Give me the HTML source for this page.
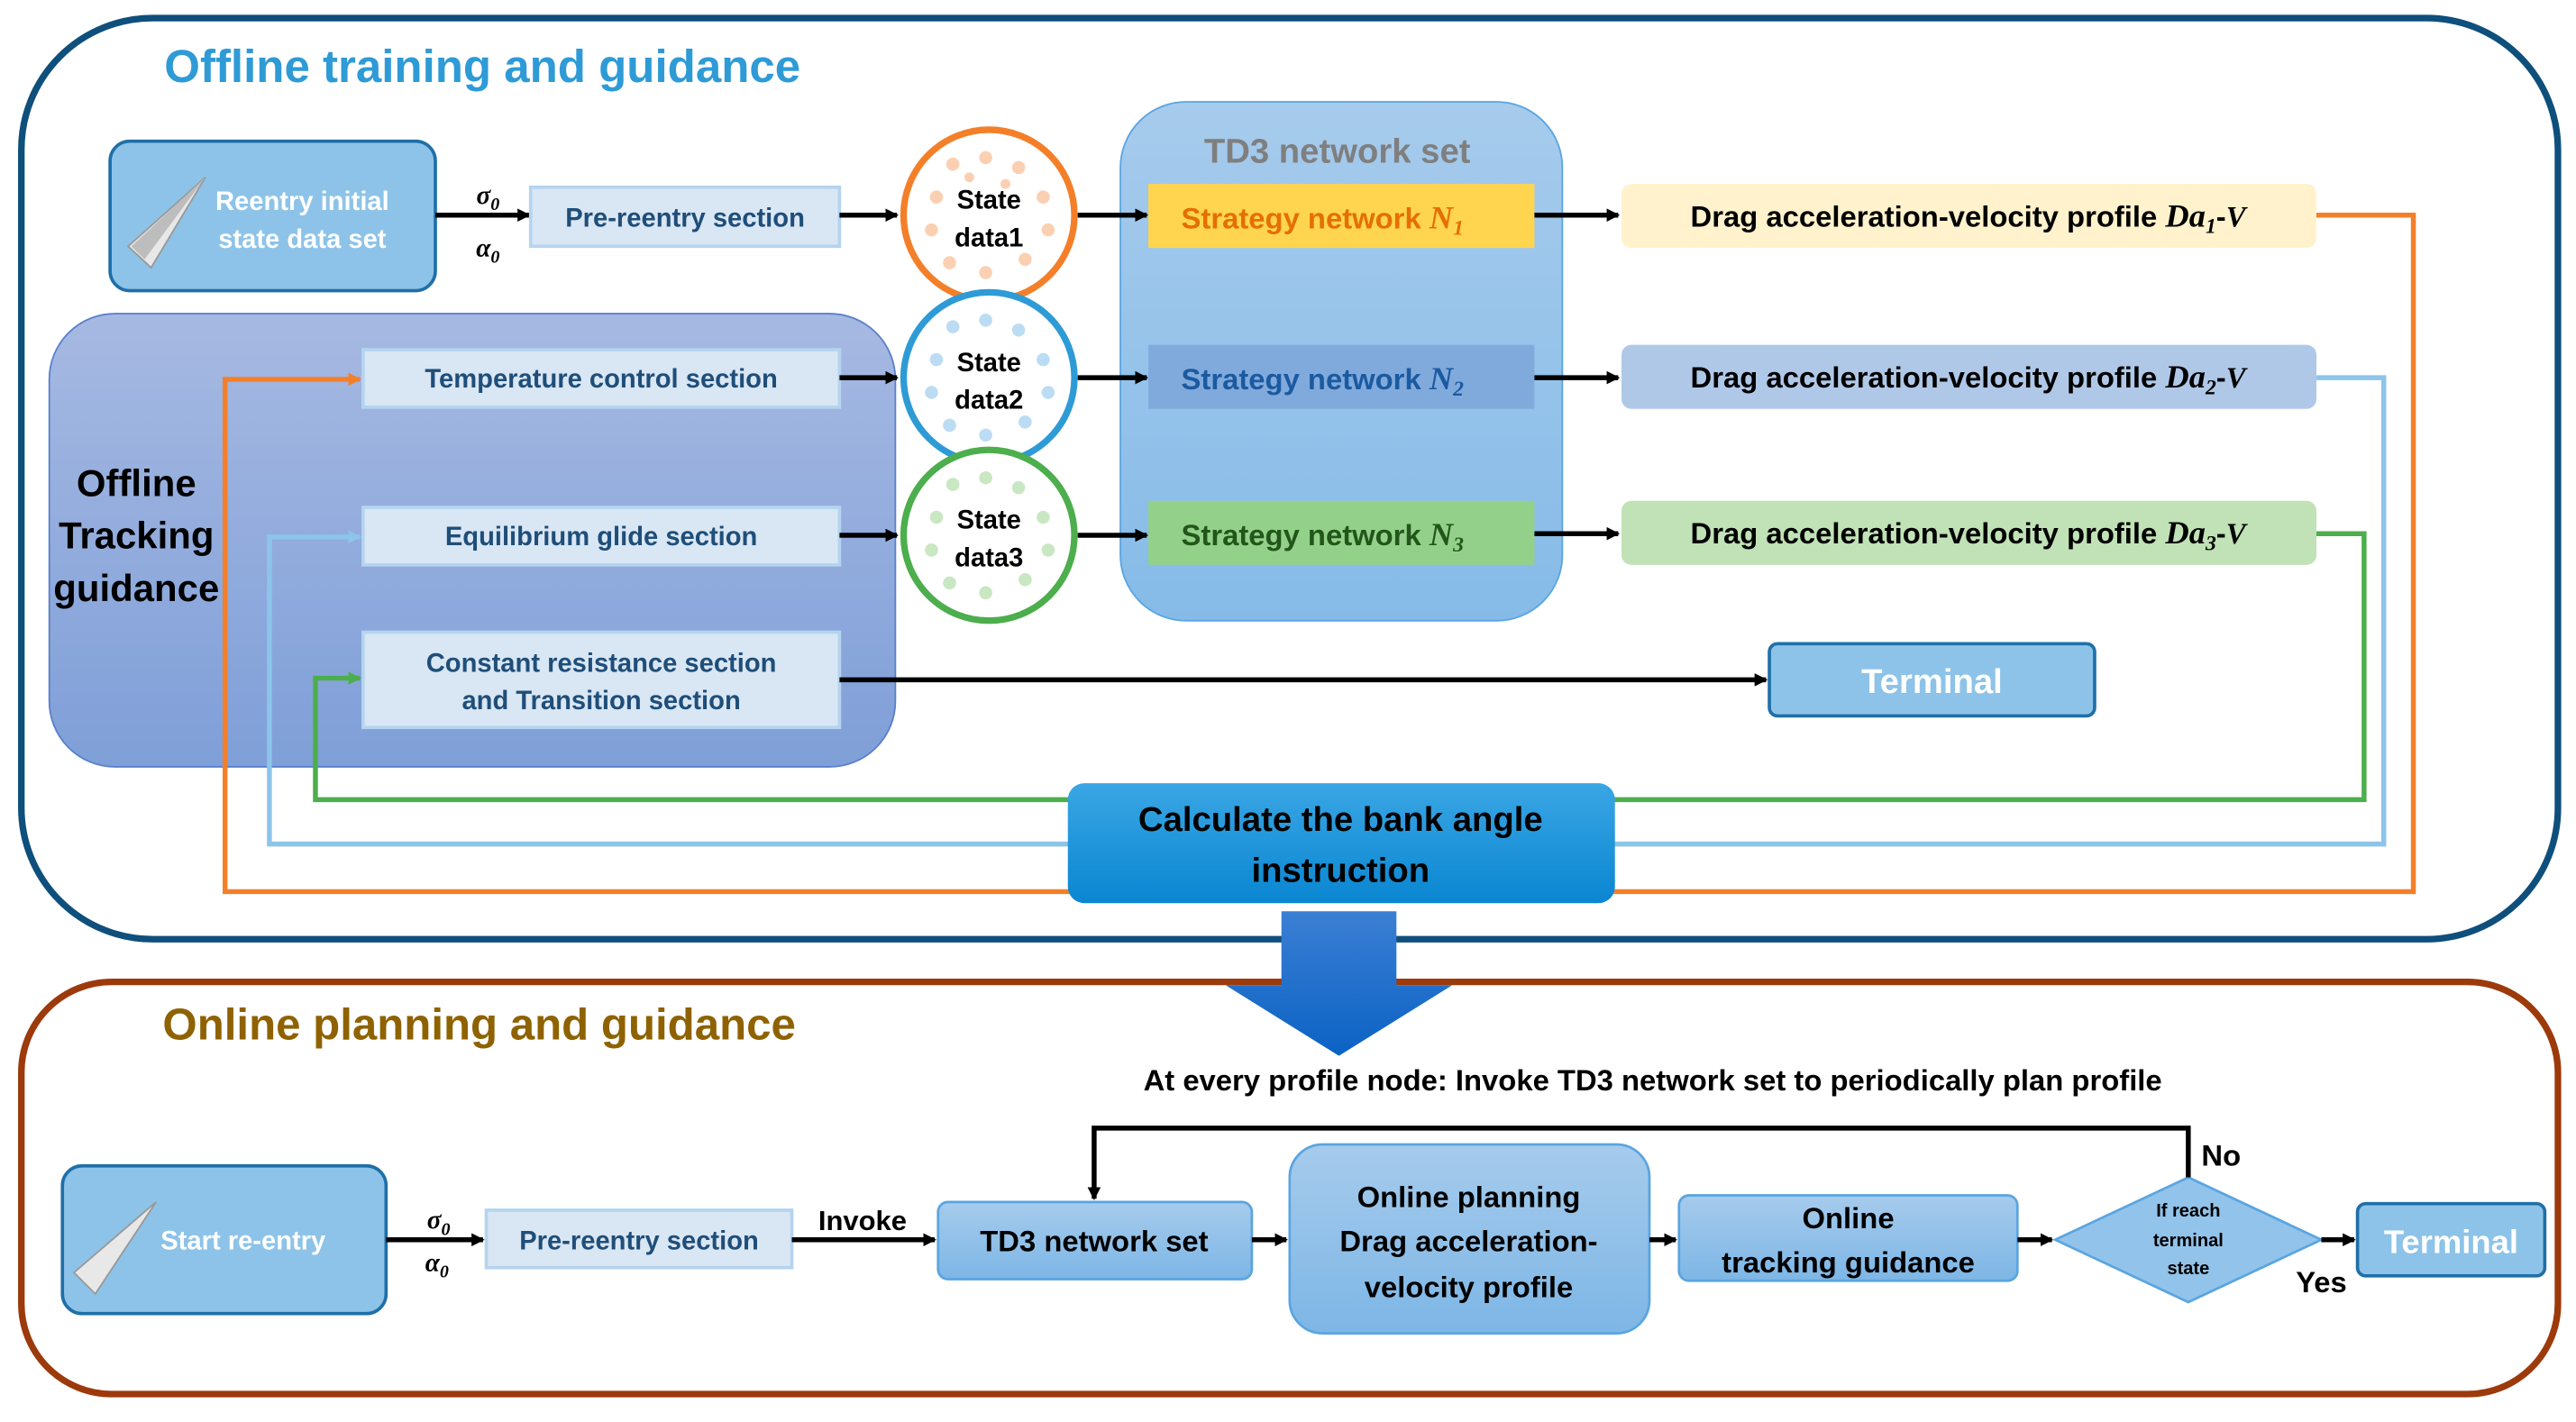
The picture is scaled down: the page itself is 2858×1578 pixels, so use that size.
<!DOCTYPE html>
<html><head><meta charset="utf-8"><style>
html,body{margin:0;padding:0;background:#fff;}
svg{display:block;}
text{font-family:"Liberation Sans",sans-serif;font-weight:bold;}
.m{font-family:"Liberation Serif",serif;font-style:italic;}
</style></head><body>
<svg width="2858" height="1578" viewBox="0 0 1568 866" preserveAspectRatio="none" xmlns="http://www.w3.org/2000/svg">
<defs>
<marker id="ab" markerWidth="8" markerHeight="8" refX="7" refY="4" orient="auto" markerUnits="userSpaceOnUse"><path d="M0,0 L8,4 L0,8 z" fill="#000"/></marker>
<marker id="ao" markerWidth="8" markerHeight="8" refX="7" refY="4" orient="auto" markerUnits="userSpaceOnUse"><path d="M0,0 L8,4 L0,8 z" fill="#f47f29"/></marker>
<marker id="al" markerWidth="8" markerHeight="8" refX="7" refY="4" orient="auto" markerUnits="userSpaceOnUse"><path d="M0,0 L8,4 L0,8 z" fill="#8cc4ea"/></marker>
<marker id="ag" markerWidth="8" markerHeight="8" refX="7" refY="4" orient="auto" markerUnits="userSpaceOnUse"><path d="M0,0 L8,4 L0,8 z" fill="#4cae4c"/></marker>
<linearGradient id="gtd3" x1="0" y1="0" x2="0" y2="1"><stop offset="0" stop-color="#a6cbec"/><stop offset="1" stop-color="#86bbe8"/></linearGradient>
<linearGradient id="goff" x1="0" y1="0" x2="0" y2="1"><stop offset="0" stop-color="#a6b9e2"/><stop offset="1" stop-color="#7f9fd8"/></linearGradient>
<linearGradient id="gcalc" x1="0" y1="0" x2="0" y2="1"><stop offset="0" stop-color="#3aa6e4"/><stop offset="1" stop-color="#0a86d2"/></linearGradient>
<linearGradient id="gbig" x1="0" y1="0" x2="0" y2="1"><stop offset="0" stop-color="#3b7fd4"/><stop offset="1" stop-color="#0b62c4"/></linearGradient>
<linearGradient id="gon" x1="0" y1="0" x2="0" y2="1"><stop offset="0" stop-color="#a6cbec"/><stop offset="1" stop-color="#7db6e6"/></linearGradient>
</defs>

<!-- Offline outer box -->
<rect x="13" y="11" width="1544" height="561" rx="80" fill="#fff" stroke="#0e4f7c" stroke-width="4"/>
<text x="100" y="50" font-size="28" fill="#2e9bd6">Offline training and guidance</text>

<!-- Offline tracking guidance big box -->
<rect x="30" y="191" width="515" height="276" rx="40" fill="url(#goff)" stroke="#5a80cc" stroke-width="1"/>
<text x="83" y="302" font-size="23" fill="#000" text-anchor="middle">Offline</text>
<text x="83" y="334" font-size="23" fill="#000" text-anchor="middle">Tracking</text>
<text x="83" y="366" font-size="23" fill="#000" text-anchor="middle">guidance</text>

<!-- TD3 set -->
<rect x="682" y="62" width="269" height="316" rx="40" fill="url(#gtd3)" stroke="#5aa5e0" stroke-width="1"/>
<text x="814" y="99" font-size="21" fill="#7f7f7f" text-anchor="middle">TD3 network set</text>

<!-- reentry box -->
<rect x="67" y="86" width="198" height="91" rx="12" fill="#8dc3e8" stroke="#1f6fa8" stroke-width="2"/>
<path d="M78,150 L125,108 L92,163 Z" fill="#e8e8e8" stroke="#999" stroke-width="1"/>
<path d="M80,150 L125,108 L88,158 Z" fill="#bdbdbd"/>
<text x="184" y="128" font-size="16" fill="#fff" text-anchor="middle">Reentry initial</text>
<text x="184" y="151" font-size="16" fill="#fff" text-anchor="middle">state data set</text>
<text x="297" y="124" font-size="16" class="m" fill="#000" text-anchor="middle">σ<tspan font-size="11" dy="4">0</tspan></text>
<text x="297" y="156" font-size="16" class="m" fill="#000" text-anchor="middle">α<tspan font-size="11" dy="4">0</tspan></text>
<line x1="265" y1="131" x2="322" y2="131" stroke="#000" stroke-width="3" marker-end="url(#ab)"/>

<rect x="323" y="114" width="188" height="36" fill="#d9e6f4" stroke="#b4d4ef" stroke-width="2"/>
<text x="417" y="138" font-size="16" fill="#1f4e79" text-anchor="middle">Pre-reentry section</text>
<line x1="511" y1="131" x2="546" y2="131" stroke="#000" stroke-width="3" marker-end="url(#ab)"/>

<!-- sections -->
<rect x="221" y="213" width="290" height="35" fill="#d9e6f4" stroke="#b4d4ef" stroke-width="2"/>
<text x="366" y="236" font-size="16" fill="#1f4e79" text-anchor="middle">Temperature control section</text>
<rect x="221" y="309" width="290" height="35" fill="#d9e6f4" stroke="#b4d4ef" stroke-width="2"/>
<text x="366" y="332" font-size="16" fill="#1f4e79" text-anchor="middle">Equilibrium glide section</text>
<rect x="221" y="385" width="290" height="58" fill="#d9e6f4" stroke="#b4d4ef" stroke-width="2"/>
<text x="366" y="409" font-size="16" fill="#1f4e79" text-anchor="middle">Constant resistance section</text>
<text x="366" y="432" font-size="16" fill="#1f4e79" text-anchor="middle">and Transition section</text>
<line x1="511" y1="230" x2="546" y2="230" stroke="#000" stroke-width="3" marker-end="url(#ab)"/>
<line x1="511" y1="326" x2="546" y2="326" stroke="#000" stroke-width="3" marker-end="url(#ab)"/>
<line x1="511" y1="414" x2="1075" y2="414" stroke="#000" stroke-width="3" marker-end="url(#ab)"/>

<!-- circles -->
<g>
<circle cx="602" cy="131" r="52" fill="#fff" stroke="#f47f29" stroke-width="4"/>
<g fill="#fbd0b2"><circle cx="580" cy="100" r="4"/><circle cx="600" cy="96" r="4"/><circle cx="620" cy="102" r="4"/><circle cx="570" cy="120" r="4"/><circle cx="635" cy="120" r="4"/><circle cx="567" cy="140" r="4"/><circle cx="638" cy="140" r="4"/><circle cx="578" cy="160" r="4"/><circle cx="600" cy="166" r="4"/><circle cx="624" cy="158" r="4"/><circle cx="590" cy="108" r="3"/><circle cx="612" cy="112" r="3"/></g>
<text x="602" y="127" font-size="16" fill="#000" text-anchor="middle">State</text>
<text x="602" y="150" font-size="16" fill="#000" text-anchor="middle">data1</text>
</g>
<g>
<circle cx="602" cy="230" r="52" fill="#fff" stroke="#2e9bd6" stroke-width="4"/>
<g fill="#bcdcf3"><circle cx="580" cy="199" r="4"/><circle cx="600" cy="195" r="4"/><circle cx="620" cy="201" r="4"/><circle cx="570" cy="219" r="4"/><circle cx="635" cy="219" r="4"/><circle cx="567" cy="239" r="4"/><circle cx="638" cy="239" r="4"/><circle cx="578" cy="259" r="4"/><circle cx="600" cy="265" r="4"/><circle cx="624" cy="257" r="4"/></g>
<text x="602" y="226" font-size="16" fill="#000" text-anchor="middle">State</text>
<text x="602" y="249" font-size="16" fill="#000" text-anchor="middle">data2</text>
</g>
<g>
<circle cx="602" cy="326" r="52" fill="#fff" stroke="#4cae4c" stroke-width="4"/>
<g fill="#c9e7c2"><circle cx="580" cy="295" r="4"/><circle cx="600" cy="291" r="4"/><circle cx="620" cy="297" r="4"/><circle cx="570" cy="315" r="4"/><circle cx="635" cy="315" r="4"/><circle cx="567" cy="335" r="4"/><circle cx="638" cy="335" r="4"/><circle cx="578" cy="355" r="4"/><circle cx="600" cy="361" r="4"/><circle cx="624" cy="353" r="4"/></g>
<text x="602" y="322" font-size="16" fill="#000" text-anchor="middle">State</text>
<text x="602" y="345" font-size="16" fill="#000" text-anchor="middle">data3</text>
</g>
<line x1="656" y1="131" x2="698" y2="131" stroke="#000" stroke-width="3" marker-end="url(#ab)"/>
<line x1="656" y1="230" x2="698" y2="230" stroke="#000" stroke-width="3" marker-end="url(#ab)"/>
<line x1="656" y1="326" x2="698" y2="326" stroke="#000" stroke-width="3" marker-end="url(#ab)"/>

<!-- strategy networks -->
<rect x="699" y="112" width="235" height="39" fill="#ffd54f"/>
<text x="805" y="139" font-size="18" fill="#e56f00" text-anchor="middle">Strategy network <tspan class="m" font-size="20">N</tspan><tspan class="m" font-size="13" dy="4">1</tspan></text>
<rect x="699" y="210" width="235" height="39" fill="#81aadc"/>
<text x="805" y="237" font-size="18" fill="#1b5aa0" text-anchor="middle">Strategy network <tspan class="m" font-size="20">N</tspan><tspan class="m" font-size="13" dy="4">2</tspan></text>
<rect x="699" y="305" width="235" height="39" fill="#93d18a"/>
<text x="805" y="332" font-size="18" fill="#22561a" text-anchor="middle">Strategy network <tspan class="m" font-size="20">N</tspan><tspan class="m" font-size="13" dy="4">3</tspan></text>
<line x1="934" y1="131" x2="985" y2="131" stroke="#000" stroke-width="3" marker-end="url(#ab)"/>
<line x1="934" y1="230" x2="985" y2="230" stroke="#000" stroke-width="3" marker-end="url(#ab)"/>
<line x1="934" y1="325" x2="985" y2="325" stroke="#000" stroke-width="3" marker-end="url(#ab)"/>

<!-- profiles -->
<rect x="987" y="112" width="423" height="39" rx="6" fill="#fff2cc"/>
<text x="1198" y="138" font-size="18" fill="#000" text-anchor="middle">Drag acceleration-velocity profile <tspan class="m" font-size="20">Da</tspan><tspan class="m" font-size="13" dy="4">1</tspan><tspan dy="-4">-</tspan><tspan class="m">V</tspan></text>
<rect x="987" y="210" width="423" height="39" rx="6" fill="#b0c8e8"/>
<text x="1198" y="236" font-size="18" fill="#000" text-anchor="middle">Drag acceleration-velocity profile <tspan class="m" font-size="20">Da</tspan><tspan class="m" font-size="13" dy="4">2</tspan><tspan dy="-4">-</tspan><tspan class="m">V</tspan></text>
<rect x="987" y="305" width="423" height="39" rx="6" fill="#c0e2b6"/>
<text x="1198" y="331" font-size="18" fill="#000" text-anchor="middle">Drag acceleration-velocity profile <tspan class="m" font-size="20">Da</tspan><tspan class="m" font-size="13" dy="4">3</tspan><tspan dy="-4">-</tspan><tspan class="m">V</tspan></text>

<!-- Terminal -->
<rect x="1077" y="392" width="198" height="44" rx="5" fill="#8dc3e8" stroke="#1f6fa8" stroke-width="2"/>
<text x="1176" y="422" font-size="21" fill="#fff" text-anchor="middle">Terminal</text>

<!-- feedback lines -->
<polyline points="1410,131 1469,131 1469,543 137,543 137,231 219,231" fill="none" stroke="#f47f29" stroke-width="3" marker-end="url(#ao)"/>
<polyline points="1410,230 1451,230 1451,514 164,514 164,327 219,327" fill="none" stroke="#8cc4ea" stroke-width="3" marker-end="url(#al)"/>
<polyline points="1410,325 1439,325 1439,487 192,487 192,413 219,413" fill="none" stroke="#4cae4c" stroke-width="3" marker-end="url(#ag)"/>

<!-- Calculate -->
<rect x="650" y="477" width="333" height="73" rx="10" fill="url(#gcalc)"/>
<text x="816" y="506" font-size="21" fill="#000" text-anchor="middle">Calculate the bank angle</text>
<text x="816" y="537" font-size="21" fill="#000" text-anchor="middle">instruction</text>

<!-- Online outer box -->
<rect x="13" y="598" width="1544" height="251" rx="55" fill="none" stroke="#9c3a0c" stroke-width="4"/>
<!-- big arrow -->
<path d="M780,555 L850,555 L850,600 L884,600 L815,643 L746,600 L780,600 Z" fill="url(#gbig)"/>
<text x="99" y="633" font-size="27" fill="#8f6200">Online planning and guidance</text>
<text x="1006" y="664" font-size="18" fill="#000" text-anchor="middle">At every profile node: Invoke TD3 network set to periodically plan profile</text>

<rect x="38" y="710" width="197" height="90" rx="12" fill="#8dc3e8" stroke="#1f6fa8" stroke-width="2"/>
<path d="M45,775 L95,732 L58,788 Z" fill="#e8e8e8" stroke="#999" stroke-width="1"/>
<text x="148" y="761" font-size="16" fill="#fff" text-anchor="middle">Start re-entry</text>
<text x="267" y="748" font-size="16" class="m" fill="#000" text-anchor="middle">σ<tspan font-size="11" dy="4">0</tspan></text>
<text x="266" y="774" font-size="16" class="m" fill="#000" text-anchor="middle">α<tspan font-size="11" dy="4">0</tspan></text>
<line x1="235" y1="755" x2="294" y2="755" stroke="#000" stroke-width="3" marker-end="url(#ab)"/>
<rect x="296" y="737" width="186" height="35" fill="#d9e6f4" stroke="#b4d4ef" stroke-width="2"/>
<text x="389" y="761" font-size="16" fill="#1f4e79" text-anchor="middle">Pre-reentry section</text>
<line x1="482" y1="755" x2="569" y2="755" stroke="#000" stroke-width="3" marker-end="url(#ab)"/>
<text x="525" y="749" font-size="17" fill="#000" text-anchor="middle">Invoke</text>

<rect x="571" y="732" width="191" height="47" rx="6" fill="url(#gon)" stroke="#5aa5e0" stroke-width="1.5"/>
<text x="666" y="762" font-size="18" fill="#000" text-anchor="middle">TD3 network set</text>
<line x1="762" y1="755" x2="783" y2="755" stroke="#000" stroke-width="3" marker-end="url(#ab)"/>
<rect x="785" y="697" width="219" height="115" rx="20" fill="url(#gon)" stroke="#5aa5e0" stroke-width="1.5"/>
<text x="894" y="735" font-size="18" fill="#000" text-anchor="middle">Online planning</text>
<text x="894" y="762" font-size="18" fill="#000" text-anchor="middle">Drag acceleration-</text>
<text x="894" y="790" font-size="18" fill="#000" text-anchor="middle">velocity profile</text>
<line x1="1004" y1="755" x2="1020" y2="755" stroke="#000" stroke-width="3" marker-end="url(#ab)"/>
<rect x="1022" y="728" width="206" height="52" rx="6" fill="url(#gon)" stroke="#5aa5e0" stroke-width="1.5"/>
<text x="1125" y="748" font-size="18" fill="#000" text-anchor="middle">Online</text>
<text x="1125" y="775" font-size="18" fill="#000" text-anchor="middle">tracking guidance</text>
<line x1="1228" y1="755" x2="1249" y2="755" stroke="#000" stroke-width="3" marker-end="url(#ab)"/>
<path d="M1251,755 L1332,717 L1413,755 L1332,793 Z" fill="#92c3ea" stroke="#5aa5e0" stroke-width="1.5"/>
<text x="1332" y="741" font-size="11" fill="#000" text-anchor="middle">If reach</text>
<text x="1332" y="759" font-size="11" fill="#000" text-anchor="middle">terminal</text>
<text x="1332" y="776" font-size="11" fill="#000" text-anchor="middle">state</text>
<line x1="1413" y1="755" x2="1433" y2="755" stroke="#000" stroke-width="3" marker-end="url(#ab)"/>
<rect x="1435" y="733" width="114" height="44" rx="5" fill="#8dc3e8" stroke="#1f6fa8" stroke-width="2"/>
<text x="1492" y="763" font-size="20" fill="#fff" text-anchor="middle">Terminal</text>
<polyline points="1332,717 1332,687 666,687 666,730" fill="none" stroke="#000" stroke-width="3" marker-end="url(#ab)"/>
<text x="1352" y="710" font-size="18" fill="#000" text-anchor="middle">No</text>
<text x="1413" y="787" font-size="18" fill="#000" text-anchor="middle">Yes</text>
</svg>
</body></html>
